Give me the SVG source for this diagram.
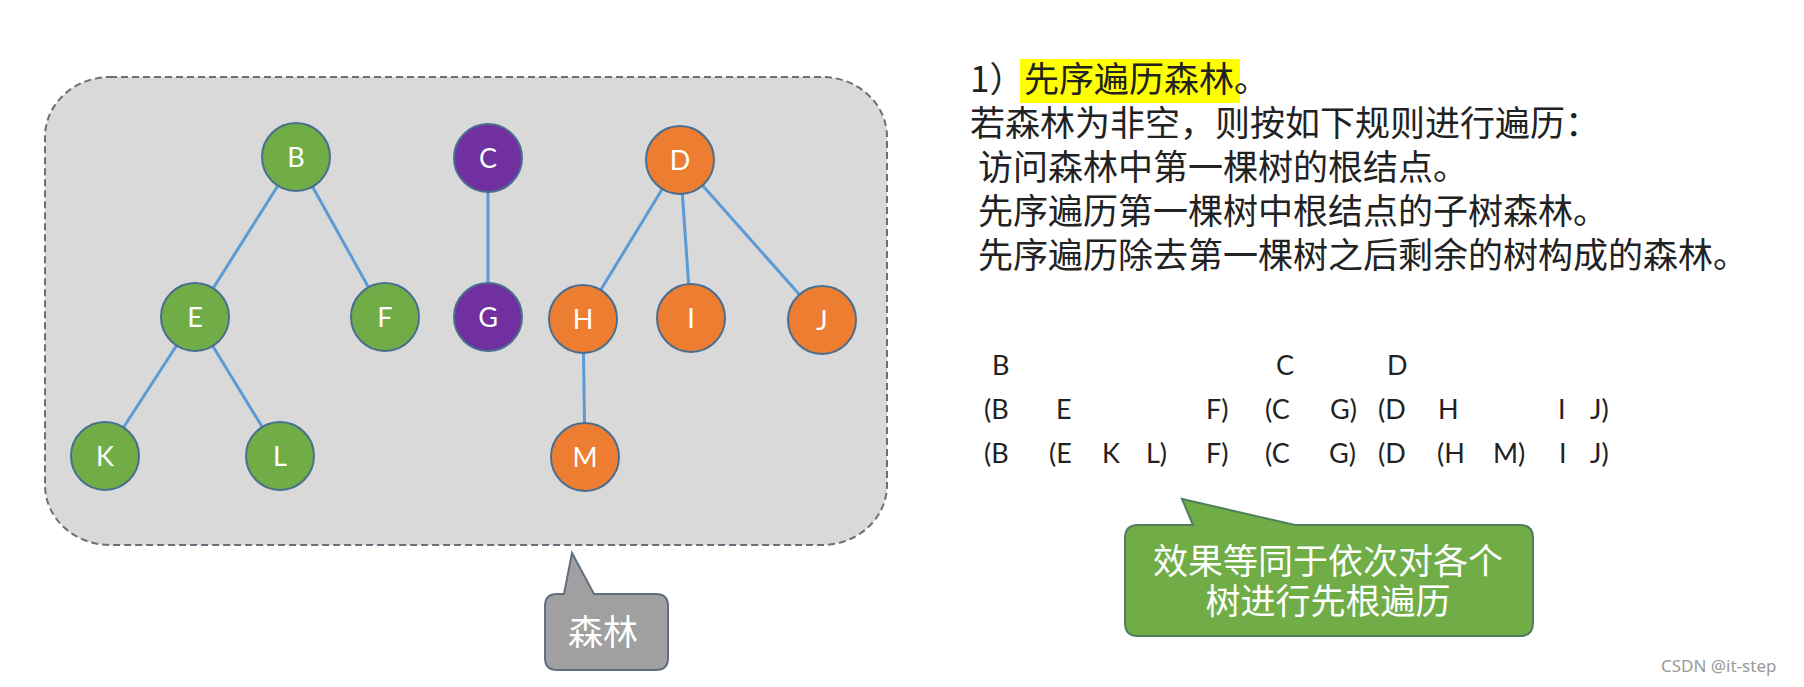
<svg xmlns="http://www.w3.org/2000/svg" width="1804" height="687" viewBox="0 0 1804 687">
<style>
.node circle{stroke:#4a6e8f;stroke-width:2}
.g circle{fill:#70ad47}
.p circle{fill:#7030a0}
.o circle{fill:#ed7d31}
.node text{font-family:Lato,"Liberation Sans",sans-serif;font-size:27px;fill:#ffffff;text-anchor:middle}
#edges line{stroke:#5b9bd5;stroke-width:3}
.cjk{font-family:"Noto Sans CJK SC","Noto Sans",sans-serif;font-size:35px;fill:#222222}
.seq{font-family:Lato,"Liberation Sans",sans-serif;font-size:27px;fill:#222222}
.wt{fill:#ffffff;text-anchor:middle}
</style>
<rect width="1804" height="687" fill="#ffffff"/>
<g id="forest-box">
<rect x="45" y="77" width="842" height="468" rx="65" ry="60" fill="#d9d9d9" stroke="#6e6e7a" stroke-width="2" stroke-dasharray="7 4"/>
</g>
<g id="edges">
<line x1="296" y1="157" x2="195" y2="317"/>
<line x1="296" y1="157" x2="385" y2="317"/>
<line x1="195" y1="317" x2="105" y2="456"/>
<line x1="195" y1="317" x2="280" y2="456"/>
<line x1="488" y1="158" x2="488" y2="317"/>
<line x1="680" y1="160" x2="583" y2="319"/>
<line x1="680" y1="160" x2="691" y2="318"/>
<line x1="680" y1="160" x2="822" y2="320"/>
<line x1="583" y1="319" x2="585" y2="457"/>
</g>
<g id="B" class="node g"><circle cx="296" cy="157" r="34"/><text x="296" y="167">B</text></g>
<g id="C" class="node p"><circle cx="488" cy="158" r="34"/><text x="488" y="168">C</text></g>
<g id="D" class="node o"><circle cx="680" cy="160" r="34"/><text x="680" y="170">D</text></g>
<g id="E" class="node g"><circle cx="195" cy="317" r="34"/><text x="195" y="327">E</text></g>
<g id="F" class="node g"><circle cx="385" cy="317" r="34"/><text x="385" y="327">F</text></g>
<g id="G" class="node p"><circle cx="488" cy="317" r="34"/><text x="488" y="327">G</text></g>
<g id="H" class="node o"><circle cx="583" cy="319" r="34"/><text x="583" y="329">H</text></g>
<g id="I" class="node o"><circle cx="691" cy="318" r="34"/><text x="691" y="328">I</text></g>
<g id="J" class="node o"><circle cx="822" cy="320" r="34"/><text x="822" y="330">J</text></g>
<g id="K" class="node g"><circle cx="105" cy="456" r="34"/><text x="105" y="466">K</text></g>
<g id="L" class="node g"><circle cx="280" cy="456" r="34"/><text x="280" y="466">L</text></g>
<g id="M" class="node o"><circle cx="585" cy="457" r="34"/><text x="585" y="467">M</text></g>
<g id="callout-forest">
<path d="M557,594 L564,594 L572,553 L594,594 L656,594 Q668,594 668,606 L668,658 Q668,670 656,670 L557,670 Q545,670 545,658 L545,606 Q545,594 557,594 Z" fill="#a0a0a0" stroke="#607080" stroke-width="2"/>
<text class="cjk wt" x="603" y="645">森林</text>
</g>
<g id="rules">
<rect x="1020" y="59" width="220" height="44" fill="#ffff00"/>
<text class="cjk" x="970" y="92">1）<tspan x="1024">先序遍历森林</tspan><tspan x="1234">。</tspan></text>
<text class="cjk" x="970" y="136">若森林为非空，则按如下规则进行遍历：</text>
<text class="cjk" x="978" y="180">访问森林中第一棵树的根结点。</text>
<text class="cjk" x="978" y="224">先序遍历第一棵树中根结点的子树森林。</text>
<text class="cjk" x="978" y="268">先序遍历除去第一棵树之后剩余的树构成的森林。</text>
</g>
<g id="sequence" class="seq">
<text x="992" y="375">B</text>
<text x="1276" y="375">C</text>
<text x="1387" y="375">D</text>
<text x="984" y="419">(B</text>
<text x="1056" y="419">E</text>
<text x="1206" y="419">F)</text>
<text x="1265" y="419">(C</text>
<text x="1330" y="419">G)</text>
<text x="1378" y="419">(D</text>
<text x="1438" y="419">H</text>
<text x="1558" y="419">I</text>
<text x="1590" y="419">J)</text>
<text x="984" y="463">(B</text>
<text x="1049" y="463">(E</text>
<text x="1102" y="463">K</text>
<text x="1146" y="463">L)</text>
<text x="1206" y="463">F)</text>
<text x="1265" y="463">(C</text>
<text x="1329" y="463">G)</text>
<text x="1378" y="463">(D</text>
<text x="1437" y="463">(H</text>
<text x="1493" y="463">M)</text>
<text x="1559" y="463">I</text>
<text x="1590" y="463">J)</text>
</g>
<g id="callout-effect">
<path d="M1138,525 L1193,525 L1182,499 L1295,525 L1520,525 Q1533,525 1533,538 L1533,623 Q1533,636 1520,636 L1138,636 Q1125,636 1125,623 L1125,538 Q1125,525 1138,525 Z" fill="#70ad47" stroke="#507e5c" stroke-width="2"/>
<text class="cjk wt"><tspan x="1328" y="574">效果等同于依次对各个</tspan><tspan x="1328" y="614">树进行先根遍历</tspan></text>
</g>
<text x="1661" y="672" font-family="'Noto Sans',sans-serif" font-size="17" fill="#9a9a9a">CSDN @it-step</text>
</svg>
